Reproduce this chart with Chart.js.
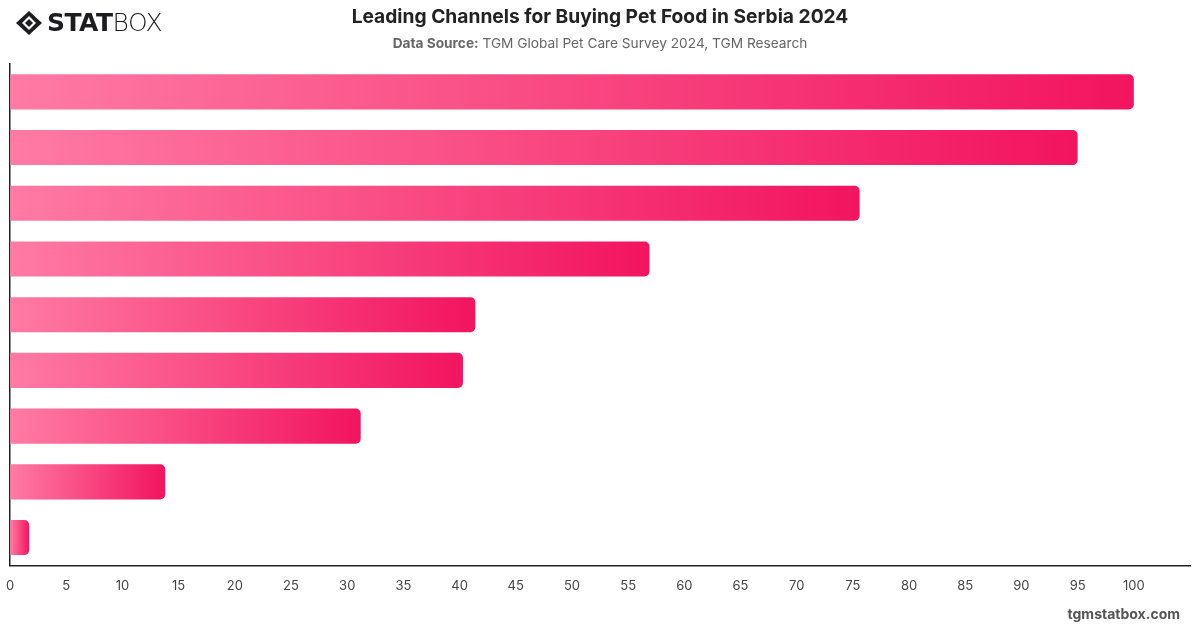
<!DOCTYPE html>
<html>
<head>
<meta charset="utf-8">
<script src="https://cdn.jsdelivr.net/npm/chart.js@4.4.1/dist/chart.umd.min.js"></script>
<style>
  html, body { margin: 0; padding: 0; background: #fff; }
  body { width: 1200px; height: 628px; position: relative; overflow: hidden; font-family: Inter, "Open Sans", sans-serif; }
  #wrap { position: absolute; left: -7px; top: 0; width: 1200px; height: 628px; }
  .logo { position: absolute; left: 15px; top: 8px; display: flex; align-items: center; }
  .logo svg { margin-right: 4px; }
  .logo .stat { font-family: "DejaVu Sans", sans-serif; font-weight: 900; font-size: 25px; color: #1d1d1f; letter-spacing: -0.5px; }
  .logo .box { font-family: "DejaVu Sans", sans-serif; font-weight: 300; font-size: 25px; color: #1d1d1f; letter-spacing: -0.5px; }
  .title { position: absolute; left: 0; width: 1200px; top: 4px; text-align: center; font-size: 19.2px; font-weight: 700; color: #222; }
  .subtitle { position: absolute; left: 0; width: 1200px; top: 35px; text-align: center; font-size: 13.7px; color: #666; }
  .subtitle b { font-weight: 700; }
  .footer { position: absolute; right: 20px; top: 605px; font-size: 14px; font-weight: 700; color: #555; }
</style>
</head>
<body>
<div id="wrap"><canvas id="chart" width="1200" height="628"></canvas></div>
<div class="logo">
  <svg width="28" height="26" viewBox="0 0 28 26">
    <path d="M14 1 L27 13 L14 25 L1 13 Z" fill="#1d1d1f"/>
    <path d="M14 6 L21 13 L14 20 L7 13 Z" fill="#fff"/>
    <path d="M14 9 L18 13 L14 17 L10 13 Z" fill="#1d1d1f"/>
  </svg>
  <span class="stat">STAT</span><span class="box">BOX</span>
</div>
<div class="title">Leading Channels for Buying Pet Food in Serbia 2024</div>
<div class="subtitle"><b>Data Source:</b> TGM Global Pet Care Survey 2024, TGM Research</div>
<div class="footer">tgmstatbox.com</div>
<script>
// channel names are not shown on the picture, keep placeholders
const categories = ["Channel 1", "Channel 2", "Channel 3", "Channel 4", "Channel 5", "Channel 6", "Channel 7", "Channel 8", "Channel 9"];
const shares = [100, 95, 75.6, 56.9, 41.4, 40.3, 31.2, 13.8, 1.7];
const xTicks = [0, 5, 10, 15, 20, 25, 30, 35, 40, 45, 50, 55, 60, 65, 70, 75, 80, 85, 90, 95, 100];

function barGradient(context) {
    const chart = context.chart;
    const area = chart.chartArea;
    if (!area) return "#f5457f";
    const xScale = chart.scales.x;
    const value = shares[context.dataIndex];
    const x0 = xScale.getPixelForValue(0);
    const x1 = xScale.getPixelForValue(value);
    const g = chart.ctx.createLinearGradient(x0, 0, Math.max(x1, x0 + 1), 0);
    g.addColorStop(0, "#ff7aa5");
    g.addColorStop(1, "#f2145f");
    return g;
}

const ctx = document.getElementById("chart").getContext("2d");
new Chart(ctx, {
    type: "bar",
    data: {
        labels: categories,
        datasets: [{
            data: shares,
            backgroundColor: barGradient,
            borderRadius: { topRight: 5, bottomRight: 5, topLeft: 0, bottomLeft: 0 },
            borderSkipped: false,
            categoryPercentage: 0.9,
            barPercentage: 0.7
        }]
    },
    options: {
        indexAxis: "y",
        responsive: false,
        animation: false,
        layout: { padding: { left: 3, top: 64, right: 3, bottom: 21 } },
        plugins: { legend: { display: false }, tooltip: { enabled: false } },
        scales: {
            x: {
                min: 0,
                max: 105,
                afterBuildTicks: function (axis) { axis.ticks = xTicks.map(v => ({ value: v })); },
                grid: { display: false, drawTicks: false },
                border: { display: true, color: "#222", width: 1.5 },
                ticks: { padding: 13, color: "#444", font: { family: "Inter", size: 13 } }
            },
            y: {
                grid: { display: false, drawTicks: false },
                border: { display: true, color: "#222", width: 1.5 },
                ticks: { display: false }
            }
        }
    }
});
</script>
</body>
</html>
